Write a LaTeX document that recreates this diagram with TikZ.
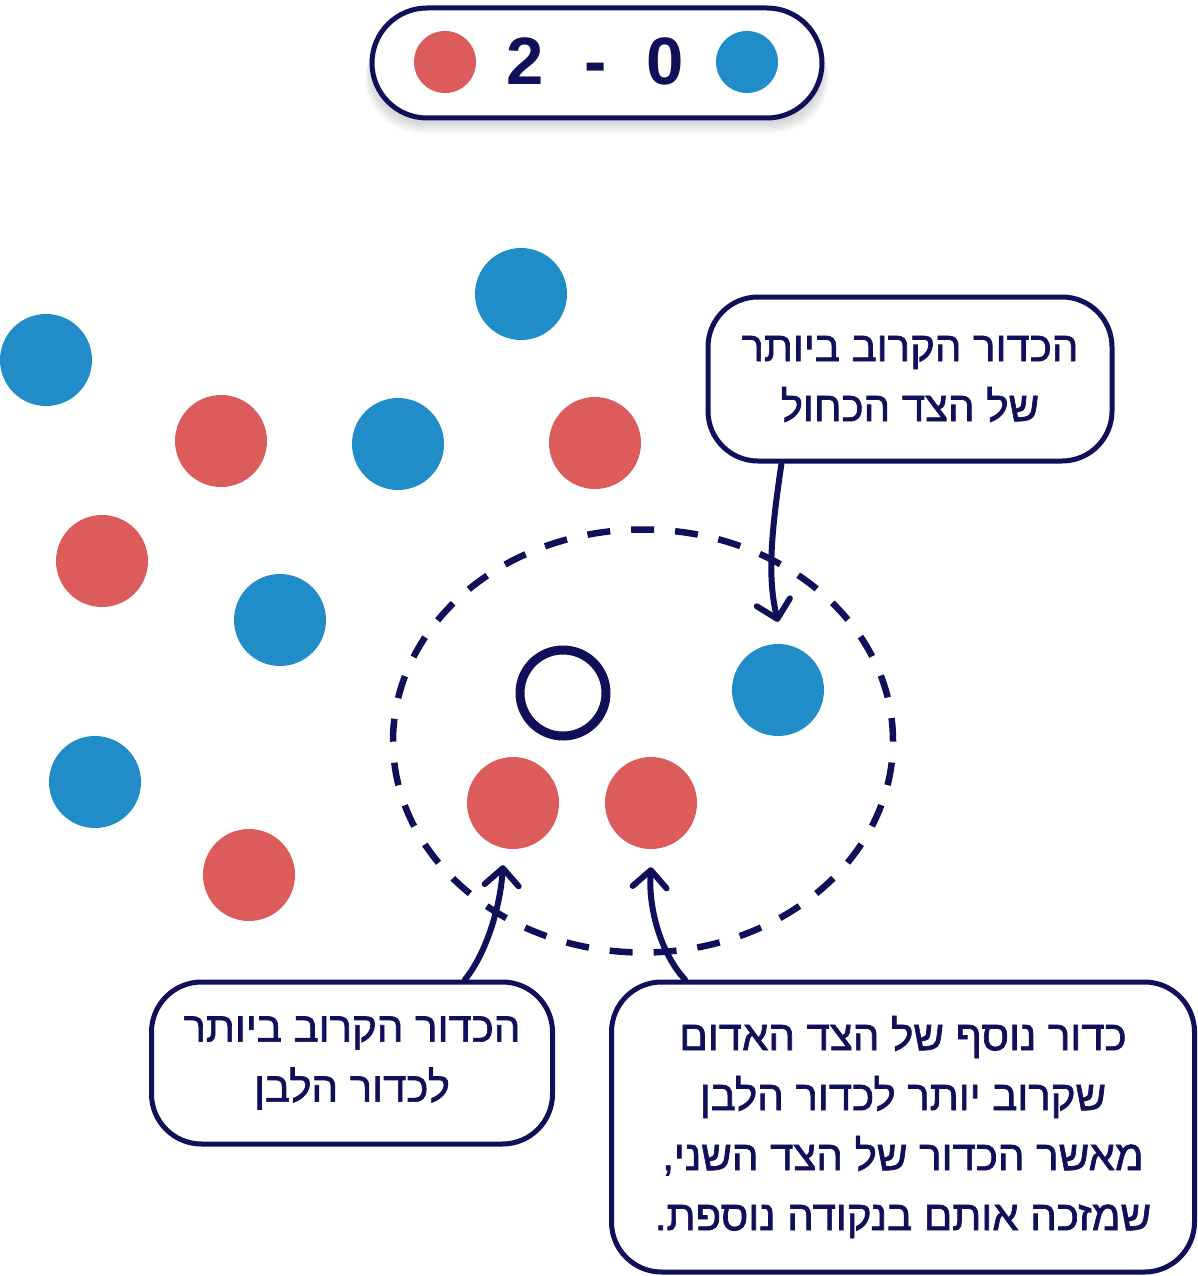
\documentclass[tikz,border=0pt]{standalone}
\usepackage{fontspec}
\setmainfont{Liberation Sans}
\newfontfamily\hebfont[Script=Hebrew,FakeBold=1.6]{Liberation Sans}
\TeXXeTstate=1
\usepackage{tikz}
\usetikzlibrary{shapes.geometric,arrows.meta,positioning,calc}
\definecolor{gmnavy}{RGB}{16,16,90}
\definecolor{gmred}{RGB}{220,91,91}
\definecolor{gmblue}{RGB}{32,141,200}

\begin{document}
\begin{tikzpicture}[
  x=1pt, y=-1pt,
  ball/.style={circle, minimum size=92pt, inner sep=0pt, draw=none},
  redball/.style={ball, fill=gmred},
  blueball/.style={ball, fill=gmblue},
  chip/.style={circle, minimum size=62pt, inner sep=0pt},
  digit/.style={text=gmnavy, anchor=base, inner sep=0pt,
                font=\fontsize{67}{67}\selectfont\bfseries},
  note/.style={draw=gmnavy, line width=5pt, rounded corners=50pt, fill=white,
               align=center, text=gmnavy, inner sep=0pt,
               font=\hebfont\fontsize{42}{60}\selectfont},
  link/.style={draw=gmnavy, line width=6pt, line cap=round,
               -{Straight Barb[length=17pt,width=34pt,round]}}
]
\useasboundingbox (0,0) rectangle (1198,1276);

\foreach \k in {1,...,7}
  \fill[black, opacity=0.022, rounded corners=55pt]
    (372-\k,14+\k*1.6) rectangle (822+\k,122+\k*1.6);
\node[draw=gmnavy, line width=5pt, fill=white, rounded corners=55pt,
      minimum width=450pt, minimum height=110pt] (score) at (597,63) {};
\node[chip, fill=gmred]  (chipr) at (445,62) {};
\node[chip, fill=gmblue] (chipb) at (747,62) {};
\node[digit] (two)  at (525,85) {2};
\node[digit] (dash) at (596,85) {-};
\node[digit] (zero) at (665,85) {0};

\node[blueball] (b1) at (521,294) {};
\node[blueball] (b2) at (46,360) {};
\node[redball]  (r1) at (221,441) {};
\node[blueball] (b3) at (398,444) {};
\node[redball]  (r2) at (595,443) {};
\node[redball]  (r3) at (102,561) {};
\node[blueball] (b4) at (280,620) {};
\node[blueball] (b5) at (95,782) {};
\node[redball]  (r4) at (249,875) {};

\node[draw=gmnavy, dash pattern=on 23pt off 21pt, line width=6.5pt,
      ellipse, inner sep=0pt, minimum width=500pt, minimum height=423pt] (zone) at (643,741) {};
\node[circle, draw=gmnavy, line width=9pt, minimum size=86pt] (white) at (563,693) {};
\node[blueball] (nearb) at (778,690) {};
\node[redball]  (nearr) at (513,803) {};
\node[redball]  (extra) at (651,803) {};

\node[note, minimum width=404pt, minimum height=164pt] (lblue) at (910,379)
  {\beginR הכדור הקרוב ביותר\endR\\\beginR של הצד הכחול\endR};
\node[note, minimum width=401pt, minimum height=162pt] (lred) at (352,1063)
  {\beginR הכדור הקרוב ביותר\endR\\\beginR לכדור הלבן\endR};
\node[note, minimum width=583pt, minimum height=290pt] (lextra) at (903,1127)
  {\beginR כדור נוסף של הצד האדום\endR\\\beginR שקרוב יותר לכדור הלבן\endR\\
   \beginR מאשר הכדור של הצד השני,\endR\\\beginR שמזכה אותם בנקודה נוספת.\endR};

\draw[link] ($(lblue.south west)+(76,0)$) .. controls (770,540) and (768,580) .. ($(nearb.north)+(0,-22)$);
\draw[link] ($(lred.north east)+(-90,0)$) .. controls (485,955) and (500,910) .. ($(nearr.south)+(-10,16)$);
\draw[link] ($(lextra.north west)+(76,0)$) .. controls (662,955) and (648,910) .. ($(extra.south)+(0,18)$);
\end{tikzpicture}
\end{document}
